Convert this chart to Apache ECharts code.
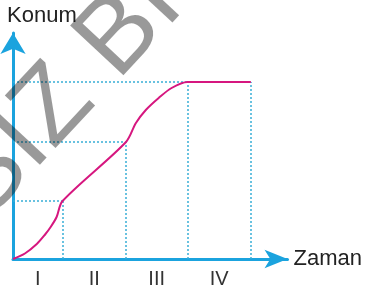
<!DOCTYPE html>
<html>
<head>
<meta charset="utf-8">
<script src="https://cdn.jsdelivr.net/npm/echarts@6/dist/echarts.min.js"></script>
<style>
  html, body { margin: 0; padding: 0; background: #fff; }
  #chart { width: 365px; height: 290px; }
</style>
</head>
<body>
<div id="chart"></div>
<script>
// zaman aralıkları (sınırlar) ve o anlardaki konum
const breaks = [0, 5.0, 11.4, 17.6, 24.0];
const levels = [0, 5.8, 11.7, 17.7, 17.7];
const phaseNames = ["I", "II", "III", "IV"];

// konum-zaman eğrisi (okunan noktalar)
const curveT = [0, 1.2, 2.4, 3.2, 3.8, 4.4, 5.0, 11.4, 12.4, 13.4, 14.7, 16.0, 17.6, 24.0];
const curveX = [0, 0.55, 1.5, 2.4, 3.2, 4.2, 5.8, 11.7, 13.6, 14.9, 16.1, 17.1, 17.7, 17.7];

const axisColor = "#1ba3de";
const guideColor = "#38aed6";
const curveColor = "#d6177f";

// yardımcı kesikli çizgiler
const guideLines = [];
for (let i = 1; i < breaks.length; i++) {
  guideLines.push({ coords: [[breaks[i], 0], [breaks[i], levels[i]]] });
  if (i < breaks.length - 1) {
    guideLines.push({ coords: [[0, levels[i]], [breaks[i], levels[i]]] });
  }
}

// aralık ortaları (roma rakamları için)
const mids = [];
for (let i = 0; i < breaks.length - 1; i++) {
  mids.push((breaks[i] + breaks[i + 1]) / 2);
}

const chart = echarts.init(document.getElementById("chart"));
chart.setOption({
  animation: false,
  textStyle: { fontFamily: "Liberation Sans" },
  grid: { left: 13, top: 33, width: 277, height: 226, containLabel: false },
  xAxis: {
    type: "value",
    min: 0,
    max: 27.7,
    name: "Zaman",
    nameLocation: "end",
    nameGap: 6,
    nameTextStyle: { color: "#222", fontSize: 22 },
    splitLine: { show: false },
    axisTick: { show: false },
    axisLine: {
      show: true,
      lineStyle: { color: axisColor, width: 3 },
      symbol: ["none", "arrow"],
      symbolSize: [14, 23],
    },
    axisLabel: {
      customValues: mids,
      color: "#333",
      fontSize: 20,
      margin: 10,
      formatter: (v) => {
        let best = 0;
        mids.forEach((m, i) => {
          if (Math.abs(m - v) < Math.abs(mids[best] - v)) best = i;
        });
        return phaseNames[best];
      },
    },
  },
  yAxis: {
    type: "value",
    min: 0,
    max: 22.6,
    name: "Konum",
    nameLocation: "end",
    nameGap: 6,
    nameTextStyle: { color: "#222", fontSize: 22, align: "left", padding: [0, 0, 0, -6] },
    splitLine: { show: false },
    axisTick: { show: false },
    axisLabel: { show: false },
    axisLine: {
      show: true,
      lineStyle: { color: axisColor, width: 3 },
      symbol: ["none", "arrow"],
      symbolSize: [19, 21],
    },
  },
  series: [
    {
      type: "lines",
      coordinateSystem: "cartesian2d",
      silent: true,
      lineStyle: { color: guideColor, width: 1.5, type: [2, 2], opacity: 1 },
      data: guideLines,
      z: 1,
    },
    {
      type: "line",
      data: curveT.map((t, i) => [t, curveX[i]]),
      showSymbol: false,
      smooth: 0.3,
      lineStyle: { color: curveColor, width: 2 },
      z: 3,
    },
  ],
  graphic: [
    {
      type: "text",
      x: 64,
      y: 96,
      rotation: (47 * Math.PI) / 180,
      z: 100,
      silent: true,
      style: {
        text: "SIZ BI",
        fontSize: 106,
        fontFamily: "Liberation Sans",
        fill: "rgba(0,0,0,0.4)",
        align: "center",
        verticalAlign: "middle",
      },
    },
  ],
});
</script>
</body>
</html>
